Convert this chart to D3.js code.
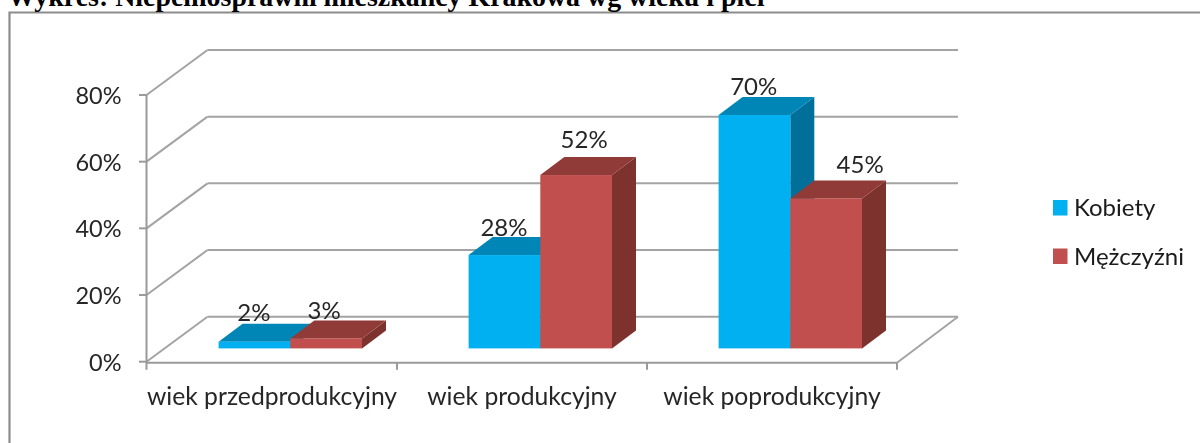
<!DOCTYPE html>
<html><head><meta charset="utf-8">
<script src="https://cdn.jsdelivr.net/npm/d3@7/dist/d3.min.js"></script>
<style>html,body{margin:0;padding:0;background:#fff;overflow:hidden}svg{display:block}</style>
</head><body><svg id="c" width="1200" height="443"></svg>
<script>
const titleText = "Wykres: Niepełnosprawni mieszkańcy Krakowa wg wieku i płci";
const categories = ["wiek przedprodukcyjny","wiek produkcyjny","wiek poprodukcyjny"];
const seriesNames = ["Kobiety","Mężczyźni"];
const kobiety = [2,28,70];
const mezczyzni = [3,52,45];
const yTicks = [0,20,40,60,80];
const frontColors = ["#00B0F0","#C0504D"];
const topColors = ["#0086B6","#913B39"];
const sideColors = ["#006F9A","#7D322F"];
// hand placement of the data labels relative to each bar's top: [shift right, lift up]
const labelShifts = [
  [[-0.5,2.3],[-0.5,1.3],[-0.7,2]],
  [[-2,1.6],[8,8.8],[34,7.2]]
];

const svg = d3.select("#c");
const fontUI = "Lato, Carlito, sans-serif";
const defs = svg.append("defs");
defs.append("filter").attr("id","soft").append("feGaussianBlur").attr("stdDeviation",0.45);
const root = svg.append("g").attr("filter","url(#soft)");

const y = d3.scaleLinear().domain([0,80]).range([361.7,95]);
const x = d3.scaleBand().domain(categories).range([147,897]);
const sub = d3.scaleBand().domain(seriesNames).range([0,143.4]);
const depth = {dx:61,dy:-45};
const barDepth = {dx:24,dy:-18};
const barOffset = {dx:18.3,dy:-13.3};
const groupInset = (x.bandwidth()-143.4)/2;
const gridColor = "#a3a3a3", axisColor = "#9a9a9a";

// frame
root.append("path").attr("d","M9.5,443V12.5H1200").attr("fill","none").attr("stroke","#8c8c8c").attr("stroke-width",2.2);
// title
svg.append("text").attr("x",7.5).attr("y",5.5).text(titleText)
  .attr("font-family","'Liberation Serif',serif").attr("font-weight","bold").attr("font-size",27.9).attr("fill","#000");

// walls
const line = (a,b,c,w=2) => root.append("line").attr("x1",a[0]).attr("y1",a[1]).attr("x2",b[0]).attr("y2",b[1]).attr("stroke",c).attr("stroke-width",w);
yTicks.forEach(t=>{
  const yy=y(t);
  line([146.5,yy],[146.5+depth.dx,yy+depth.dy],gridColor);
  line([146.5+depth.dx,yy+depth.dy],[897+depth.dx,yy+depth.dy],gridColor);
  line([139,yy],[146.5,yy],axisColor);
  root.append("text").attr("x",121.5).attr("y",yy+9).attr("text-anchor","end").text(t+"%")
    .attr("font-family",fontUI).attr("font-size",23.5).attr("fill","#262626");
});
line([146.5,y(80)],[146.5,y(0)+8],axisColor);
line([146.5,y(0)+1],[897,y(0)+1],axisColor);
line([897,y(0)+1],[897+depth.dx,y(0)+depth.dy],gridColor);
categories.forEach((c,i)=>{
  const tx=x(c)+x.bandwidth();
  line([tx,y(0)+1],[tx,y(0)+8],axisColor);
  root.append("text").attr("x",x(c)+x.bandwidth()/2).attr("y",405).attr("text-anchor","middle").text(c)
    .attr("font-family",fontUI).attr("font-size",24.7).attr("fill","#262626");
});

// bars
const base = y(0)+barOffset.dy;
const bh = v => y(0)-y(v);
[kobiety,mezczyzni].forEach((vals,s)=>{
  const name=seriesNames[s];
  const g=root.append("g");
  const bars=categories.map((c,i)=>({c,v:vals[i],x0:x(c)+groupInset+sub(name)+barOffset.dx,w:sub.bandwidth(),top:base-bh(vals[i])}));
  const poly=(sel,fn,fill)=>sel.append("g").selectAll("polygon").data(bars).join("polygon").attr("points",fn).attr("fill",fill);
  poly(g,d=>[[d.x0+d.w,d.top],[d.x0+d.w+barDepth.dx,d.top+barDepth.dy],[d.x0+d.w+barDepth.dx,base+barDepth.dy],[d.x0+d.w,base]].join(" "),sideColors[s]);
  poly(g,d=>[[d.x0,d.top],[d.x0+barDepth.dx,d.top+barDepth.dy],[d.x0+d.w+barDepth.dx,d.top+barDepth.dy],[d.x0+d.w,d.top]].join(" "),topColors[s]);
  g.append("g").selectAll("rect").data(bars).join("rect").attr("x",d=>d.x0).attr("y",d=>d.top).attr("width",d=>d.w).attr("height",d=>base-d.top).attr("fill",frontColors[s]);
});
// labels on top
[kobiety,mezczyzni].forEach((vals,s)=>{
  const name=seriesNames[s];
  categories.forEach((c,i)=>{
    const x0=x(c)+groupInset+sub(name)+barOffset.dx, top=base-bh(vals[i]);
    const [sx,sy]=labelShifts[s][i];
    root.append("text").attr("x",x0+sub.bandwidth()/2+sx).attr("y",top+barDepth.dy-sy).attr("text-anchor","middle").text(vals[i]+"%")
      .attr("font-family",fontUI).attr("font-size",24).attr("fill","#262626");
  });
});

// legend
seriesNames.forEach((n,i)=>{
  const ly=200+i*48.5;
  root.append("rect").attr("x",1053).attr("y",ly).attr("width",14.5).attr("height",15.5).attr("fill",frontColors[i]);
  root.append("text").attr("x",1074).attr("y",ly+16).text(n)
    .attr("font-family",fontUI).attr("font-size",24).attr("fill","#1a1a1a");
});
</script></body></html>
